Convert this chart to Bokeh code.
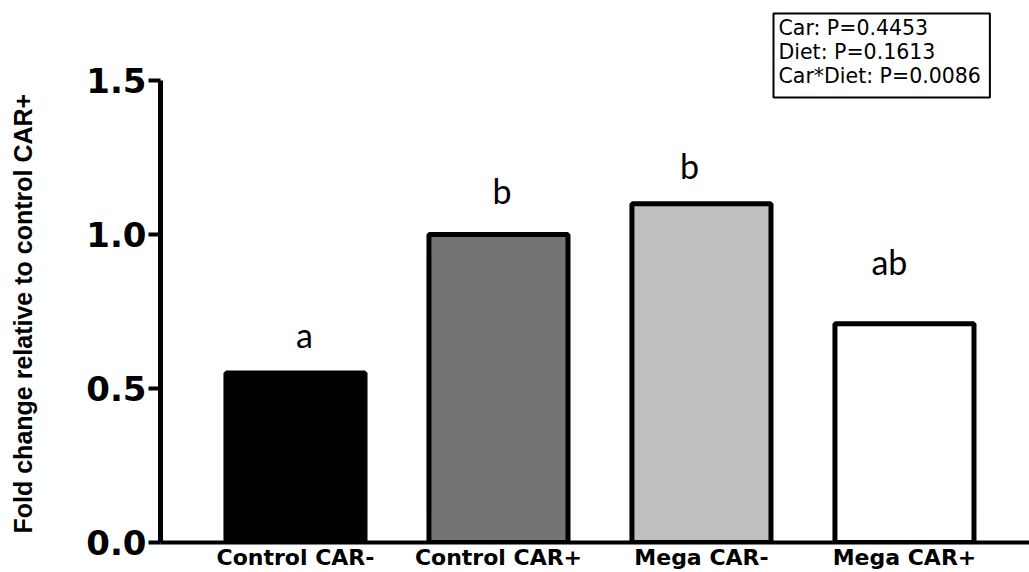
from bokeh.plotting import figure
from bokeh.models import Range1d, FixedTicker, Label, ColumnDataSource, NumeralTickFormatter, Title
from bokeh.embed import file_html
from bokeh.resources import INLINE
from bokeh.core.properties import value

categories = ["Control CAR-", "Control CAR+", "Mega CAR-", "Mega CAR+"]
fold_change = [0.55, 1.0, 1.10, 0.71]
bar_colors = ["#000000", "#737373", "#bfbfbf", "#ffffff"]
sig_letters = ["a", "b", "b", "ab"]
letter_x = [1.044, 2.017, 2.941, 3.926]
letter_y = [0.675, 1.142, 1.224, 0.912]
stats_text = ["Car: P=0.4453", "Diet: P=0.1613", "Car*Diet: P=0.0086"]
y_ticks = [0.0, 0.5, 1.0, 1.5]
y_label = "Fold change relative to control CAR+"

xpos = list(range(1, len(categories) + 1))

p = figure(width=1029, height=572, output_backend="svg", toolbar_location=None,
           x_range=Range1d(0.335, 4.616), y_range=Range1d(0, 1.7597),
           min_border_left=160, min_border_right=0, min_border_top=0, min_border_bottom=30)
p.outline_line_color = None
p.grid.visible = False

src = ColumnDataSource(dict(x=xpos, top=fold_change, color=bar_colors))
p.vbar(x="x", top="top", bottom=0, width=0.685, fill_color="color",
       line_color="black", line_width=5, source=src)

lsrc = ColumnDataSource(dict(x=letter_x, y=letter_y, t=sig_letters))
p.text(x="x", y="y", text="t", source=lsrc, text_font=value("Lato"), text_font_size="34px",
       text_align="center", text_baseline="alphabetic", text_color="black")

ya = p.yaxis[0]
ya.ticker = FixedTicker(ticks=y_ticks)
ya.bounds = (0, 1.5)
ya.formatter = NumeralTickFormatter(format="0.0")
ya.axis_line_width = 5
ya.axis_line_color = "black"
ya.major_tick_line_width = 4
ya.major_tick_line_color = "black"
ya.major_tick_out = 12
ya.major_tick_in = 0
ya.minor_tick_line_color = None
ya.major_label_text_font = "DejaVu Sans"
ya.major_label_text_font_style = "bold"
ya.major_label_text_font_size = "34px"
ya.major_label_text_color = "black"
ya.major_label_standoff = 2
# blank spacer label to push the title outward
ya.axis_label = " "
ya.axis_label_text_font_size = "1px"
ya.axis_label_standoff = 36

ytitle = Title(text=y_label, align="left", offset=9, vertical_align="top", standoff=10,
               text_font="Liberation Sans", text_font_style="bold",
               text_font_size="25px", text_color="black")
p.add_layout(ytitle, "left")

xa = p.xaxis[0]
xa.ticker = FixedTicker(ticks=xpos)
xa.major_label_overrides = {i: c for i, c in zip(xpos, categories)}
xa.axis_line_width = 4
xa.axis_line_color = "black"
xa.major_tick_out = 0
xa.major_tick_in = 0
xa.major_tick_line_color = None
xa.minor_tick_line_color = None
xa.major_label_text_font = "DejaVu Sans"
xa.major_label_text_font_style = "bold"
xa.major_label_text_font_size = "22px"
xa.major_label_text_line_height = 1.0
xa.major_label_text_color = "black"
xa.major_label_standoff = 2

box = Label(x=613, y=529, x_units="screen", y_units="screen",
            text="\n".join(stats_text), text_font="DejaVu Sans", text_font_size="20.5px",
            text_color="black", text_align="left", text_baseline="top", text_line_height=1.02,
            border_line_color="black", border_line_width=2, background_fill_color="white",
            padding=(5, 9, 2, 9))
p.add_layout(box)

open("out.html", "w").write(file_html(p, INLINE))
